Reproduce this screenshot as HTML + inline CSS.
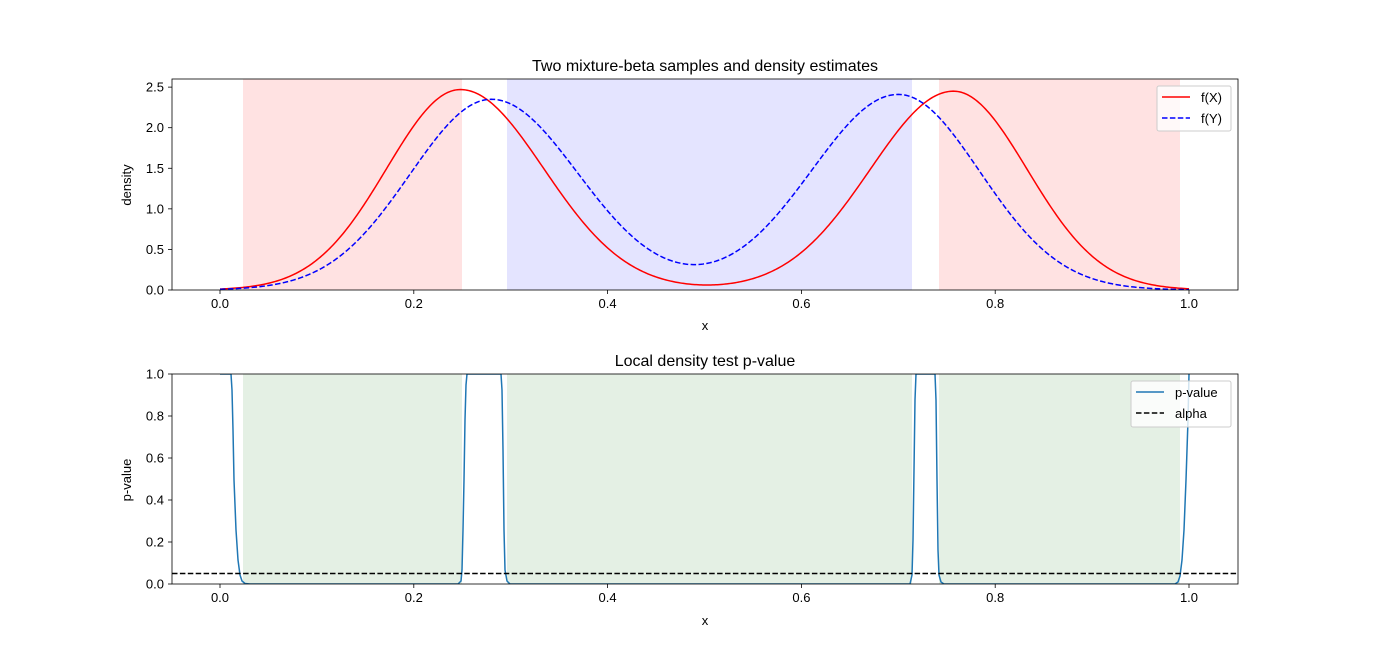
<!DOCTYPE html>
<html><head><meta charset="utf-8"><style>
body{margin:0;background:#fff}
svg{display:block;font-family:"Liberation Sans","DejaVu Sans",sans-serif}
</style></head><body>
<svg id="s" width="1376" height="657" xmlns="http://www.w3.org/2000/svg">
<rect width="1376" height="657" fill="#fff"/>
<rect x="243" y="79" width="219" height="211" fill="#ffe2e2"/>
<rect x="507" y="79" width="405" height="211" fill="#e4e4ff"/>
<rect x="939" y="79" width="241" height="211" fill="#ffe2e2"/>
<rect x="243" y="374" width="219" height="210" fill="#e4f0e4"/>
<rect x="507" y="374" width="405" height="210" fill="#e4f0e4"/>
<rect x="939" y="374" width="241" height="210" fill="#e4f0e4"/>
<clipPath id="c1"><rect x="172" y="79" width="1066" height="211"/></clipPath>
<clipPath id="c2"><rect x="172" y="374" width="1066" height="210"/></clipPath>
<g clip-path="url(#c1)">
<path id="fx" fill="none" stroke="#ff0000" stroke-width="1.5"/>
<path id="fy" fill="none" stroke="#0000ff" stroke-width="1.5" stroke-dasharray="5.5,2.4"/>
</g>
<g clip-path="url(#c2)">
<polyline fill="none" stroke="#1f77b4" stroke-width="1.5" stroke-linejoin="round" points="220,374 231,374 232,390 233,430 234,480 236,530 238,560 240,575 242,581 245,583.5 250,584 458,584 461,581 462,570 463,530 464,480 465,420 466,385 467,374 501,374 502,390 503,450 504,530 505,570 507,581 510,584 910,584 912,575 913,540 914,470 915,400 916,374 935,374 936,400 937,480 938,550 939,575 941,582 944,584 1175,584 1178,582 1180,576 1182,560 1184,530 1186,480 1188,420 1189,374"/>
<line x1="172" y1="573.5" x2="1238" y2="573.5" stroke="#000" stroke-width="1.5" stroke-dasharray="5.5,2.4"/>
</g>
<rect x="172" y="79" width="1066" height="211" fill="none" stroke="#000" stroke-width="0.8"/>
<rect x="172" y="374" width="1066" height="210" fill="none" stroke="#000" stroke-width="0.8"/>
<g id="ticks" stroke="#000" stroke-width="0.8"></g>
<g id="lbl" font-size="13" fill="#000"></g>
<text x="705" y="71" font-size="16" text-anchor="middle">Two mixture-beta samples and density estimates</text>
<text x="705" y="366" font-size="16" text-anchor="middle">Local density test p-value</text>
<text x="705" y="330" font-size="13" text-anchor="middle">x</text>
<text x="705" y="625" font-size="13" text-anchor="middle">x</text>
<text transform="translate(131,185) rotate(-90)" font-size="13" text-anchor="middle">density</text>
<text transform="translate(131,480) rotate(-90)" font-size="13" text-anchor="middle">p-value</text>
<rect x="1157" y="86" width="74" height="45" rx="2" fill="#fff" fill-opacity="0.8" stroke="#ccc"/>
<line x1="1162" y1="97" x2="1190" y2="97" stroke="#f00" stroke-width="1.5"/>
<line x1="1162" y1="118" x2="1190" y2="118" stroke="#00f" stroke-width="1.5" stroke-dasharray="5.5,2.4"/>
<text x="1201" y="102" font-size="13">f(X)</text>
<text x="1201" y="123" font-size="13">f(Y)</text>
<rect x="1131" y="381" width="100" height="46" rx="2" fill="#fff" fill-opacity="0.8" stroke="#ccc"/>
<line x1="1136" y1="392" x2="1164" y2="392" stroke="#1f77b4" stroke-width="1.5"/>
<line x1="1136" y1="413" x2="1164" y2="413" stroke="#000" stroke-width="1.5" stroke-dasharray="5.5,2.4"/>
<text x="1175" y="397" font-size="13">p-value</text>
<text x="1175" y="418" font-size="13">alpha</text>
</svg>
<script>
var X=function(v){return 220+969*v};
function g(x,m,sl,sr){var s=x<m?sl:sr;return Math.exp(-(x-m)*(x-m)/(2*s*s))}
var dx="",dy="";
for(var i=0;i<=600;i++){var x=i/600;
var fx=2.47*g(x,0.248,0.076,0.086)+2.45*g(x,0.757,0.086,0.076);
var fy=2.35*g(x,0.28,0.084,0.09)+2.41*g(x,0.70,0.09,0.084);
dx+=(i?"L":"M")+X(x).toFixed(2)+","+(290-81.15*fx).toFixed(2);
dy+=(i?"L":"M")+X(x).toFixed(2)+","+(290-81.15*fy).toFixed(2);}
document.getElementById("fx").setAttribute("d",dx);
document.getElementById("fy").setAttribute("d",dy);
var t="",l="";
[0,0.2,0.4,0.6,0.8,1.0].forEach(function(v){var px=X(v);
[290,584].forEach(function(y){t+='<line x1="'+px+'" y1="'+y+'" x2="'+px+'" y2="'+(y+4)+'"/>';
l+='<text x="'+px+'" y="'+(y+18)+'" text-anchor="middle">'+v.toFixed(1)+'</text>';});});
[0,0.5,1,1.5,2,2.5].forEach(function(v){var py=290-81.15*v;
t+='<line x1="168" y1="'+py+'" x2="172" y2="'+py+'"/>';
l+='<text x="164" y="'+(py+4.5)+'" text-anchor="end">'+v.toFixed(1)+'</text>';});
[0,0.2,0.4,0.6,0.8,1].forEach(function(v){var py=584-210*v;
t+='<line x1="168" y1="'+py+'" x2="172" y2="'+py+'"/>';
l+='<text x="164" y="'+(py+4.5)+'" text-anchor="end">'+v.toFixed(1)+'</text>';});
document.getElementById("ticks").innerHTML=t;
document.getElementById("lbl").innerHTML=l;
</script>
</body></html>
